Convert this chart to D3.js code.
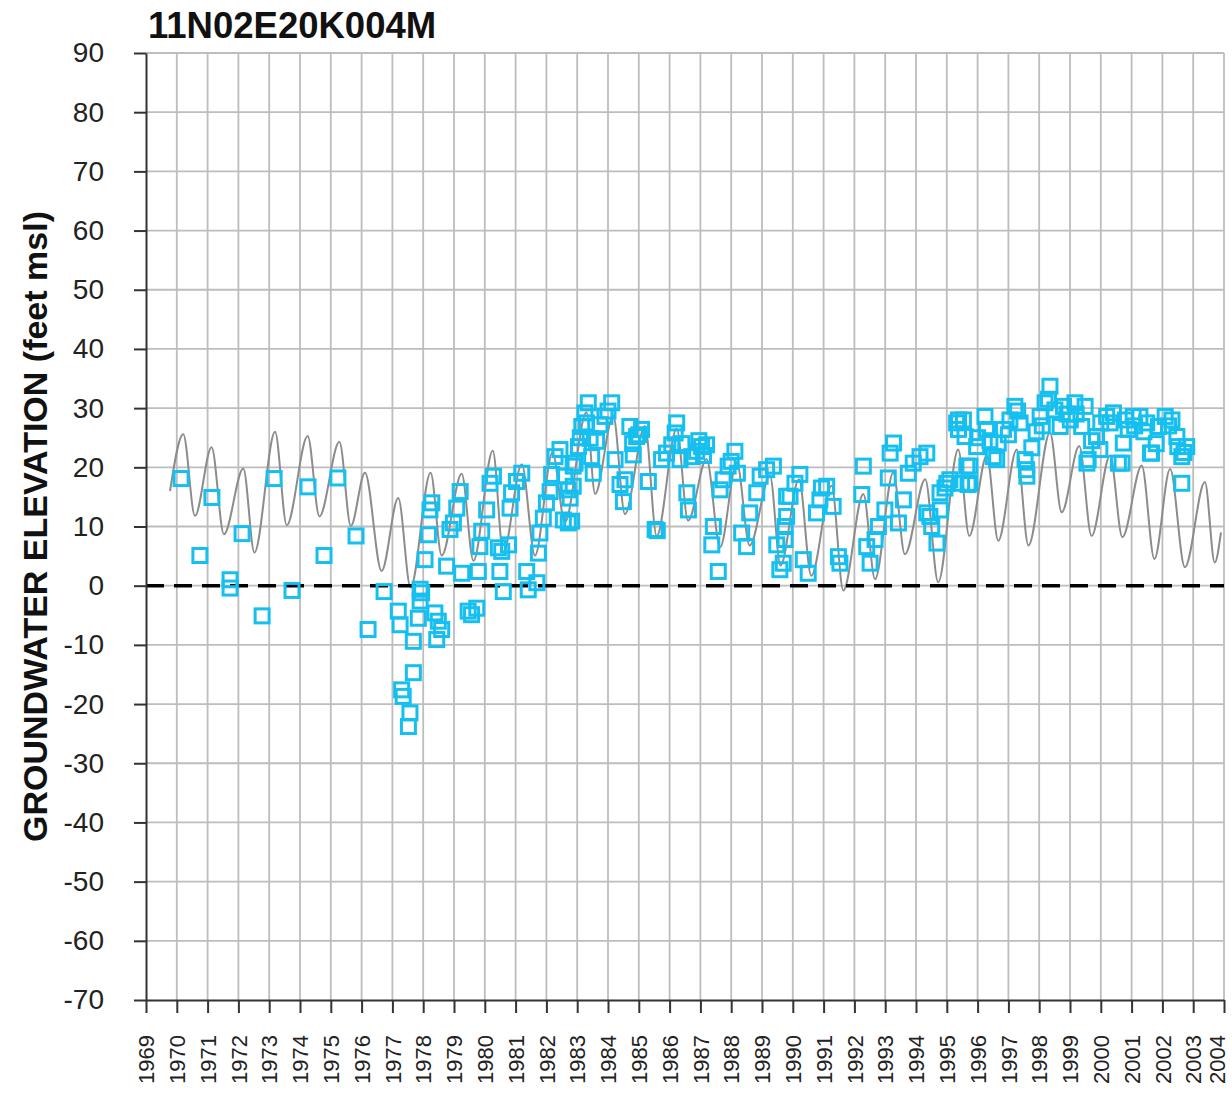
<!DOCTYPE html>
<html>
<head>
<meta charset="utf-8">
<script src="https://cdn.jsdelivr.net/npm/d3@7"></script>
<style>
  html, body { margin: 0; padding: 0; background: #fff; }
  svg { display: block; font-family: "Liberation Sans", Arial, sans-serif; }
</style>
</head>
<body>
<svg id="chart" width="1232" height="1095"></svg>
<script>
// Well 11N02E20K004M — simulated vs. observed groundwater elevation

const wellName = "11N02E20K004M";
const yAxisTitle = "GROUNDWATER ELEVATION (feet msl)";

// Tick labels
const yearTicks = d3.range(1969, 2005);           // 1969 … 2004
const elevTicks = d3.range(-70, 91, 10);          // -70 … 90

// Simulated hydrograph: seasonal turning points (decimal year, feet msl)
const simYear = [
  1969.78, 1970.21, 1970.59, 1971.13, 1971.53, 1972.16, 1972.52, 1973.19, 1973.57,
  1974.25, 1974.63, 1975.28, 1975.65, 1976.11, 1976.65, 1977.19, 1977.59, 1978.24,
  1978.60, 1979.25, 1979.63, 1980.26, 1980.60, 1981.20, 1981.63, 1982.20, 1982.60,
  1983.30, 1983.58, 1984.17, 1984.55, 1985.20, 1985.58, 1986.23, 1986.60, 1987.20,
  1987.64, 1988.18, 1988.60, 1989.26, 1989.60, 1990.20, 1990.60, 1991.26, 1991.64,
  1992.29, 1992.67, 1993.26, 1993.64, 1994.30, 1994.72, 1995.37, 1995.73, 1996.30,
  1996.67, 1997.27, 1997.65, 1998.35, 1998.73, 1999.30, 1999.70, 2000.30, 2000.70,
  2001.33, 2001.74, 2002.25, 2002.73, 2003.38, 2003.70, 2003.90
];
const simElev = [
  16.0, 25.6, 11.8, 23.4, 8.7, 19.8, 5.6, 26.0, 10.2,
  25.3, 11.7, 24.3, 10.1, 19.1, 2.5, 14.8, -0.3, 19.1,
  5.1, 18.9, 4.2, 22.8, 5.6, 20.5, 5.1, 22.5, 10.7,
  29.3, 15.5, 28.7, 12.1, 27.0, 8.4, 26.5, 11.0, 21.4,
  6.5, 20.8, 6.8, 18.6, 3.4, 18.0, 1.7, 16.9, -0.8,
  15.5, 1.1, 19.1, 5.3, 18.0, 0.6, 23.0, 8.4, 22.0,
  7.6, 23.0, 6.8, 25.9, 12.4, 23.6, 8.4, 22.0, 8.2,
  20.3, 4.5, 19.7, 3.1, 17.5, 3.9, 9.0
];

// Observed water levels (decimal year, feet msl)
const obsYear = [
  1970.14, 1970.75, 1971.14, 1971.73, 1971.73, 1972.12, 1972.77, 1973.16, 1973.74, 1974.26,
  1974.78, 1975.23, 1975.82, 1976.21, 1976.73,
  1977.19, 1977.25, 1977.68, 1977.84, 1977.90, 1977.95, 1977.68, 1977.30, 1977.35, 1977.57,
  1977.52, 1977.90, 1978.06, 1978.17, 1978.22, 1978.28, 1978.38, 1978.49, 1978.44, 1978.60,
  1978.76, 1978.87, 1978.98, 1979.09, 1979.20, 1979.25, 1979.46, 1979.57, 1979.74, 1979.79,
  1979.84, 1979.90, 1980.06, 1980.17, 1980.28, 1980.44, 1980.55, 1980.49, 1980.60, 1980.77,
  1980.82, 1980.87, 1981.03, 1981.20, 1981.36, 1981.41, 1981.69, 1981.74, 1981.79, 1981.90,
  1982.00, 1982.12, 1982.17, 1982.28, 1982.44, 1982.55, 1982.71, 1982.77, 1982.87, 1982.93,
  1982.60, 1982.71, 1982.82, 1982.87, 1983.04, 1983.15, 1983.25, 1983.36, 1983.42, 1983.47,
  1983.52, 1983.63, 1983.74, 1983.90, 1984.12, 1984.23, 1984.39, 1984.50, 1984.55, 1984.71,
  1984.82, 1984.93, 1985.09, 1985.31, 1985.53, 1985.60, 1985.74, 1985.90, 1986.07, 1986.23,
  1986.18, 1986.34, 1986.56, 1986.61, 1986.72, 1986.88, 1987.04, 1987.20, 1987.42, 1987.37,
  1987.58, 1987.64, 1987.74, 1987.90, 1988.12, 1988.34, 1988.50, 1988.60, 1988.83, 1988.94,
  1989.15, 1989.37, 1989.48, 1989.58, 1989.75, 1989.80,
  1989.69, 1989.75, 1989.80, 1989.91, 1990.07, 1990.23, 1990.34, 1990.50, 1990.77, 1990.88,
  1990.93, 1991.10, 1991.31, 1991.48, 1991.53, 1992.24, 1992.29, 1992.40, 1992.51, 1992.67,
  1992.78, 1992.99, 1993.10, 1993.16, 1993.27, 1993.43, 1993.59, 1993.75, 1993.91, 1994.13,
  1994.35, 1994.35, 1994.51, 1994.68, 1994.79, 1994.94, 1995.10, 1995.32, 1995.48, 1995.69,
  1994.45, 1994.78, 1995.00, 1995.38, 1995.38, 1995.65,
  1995.54, 1995.59, 1995.75, 1995.75, 1995.97, 1996.24, 1996.29, 1996.51, 1996.62, 1996.67,
  1996.84, 1997.05, 1997.21, 1997.38, 1997.54, 1997.59, 1997.60, 1997.76, 1998.03, 1998.19,
  1998.35, 1998.51, 1998.68, 1998.79, 1999.01, 1999.16, 1999.38, 1999.49, 1999.55, 1999.59,
  1999.86, 1999.97, 2000.19, 2000.41, 2000.57, 2000.69, 2000.73, 2000.89, 2001.05, 2001.27,
  2001.49, 2001.61, 2001.65, 2001.87, 2002.09, 2002.31, 2002.47, 2002.63, 2002.79, 2002.63,
  1996.00, 1996.40, 1997.00, 1997.30, 1997.90, 1998.10, 1998.30, 1998.90, 1999.20, 1999.70,
  2000.00, 2000.30, 2000.80, 2001.10, 2001.40, 2001.80, 2002.20, 2002.50, 2002.70,
  1986.40, 1986.95, 1987.10, 1988.00, 1988.20, 1983.10, 1983.30, 1984.00, 1984.80, 1985.00
];
const obsElev = [
  18.1, 5.1, 14.9, 1.0, -0.4, 8.8, -5.1, 18.1, -0.8, 16.7,
  5.1, 18.2, 8.4, -7.4, -1.0,
  -4.3, -6.6, -9.4, -5.5, -2.6, -1.2, -14.7, -17.6, -18.7, -21.5,
  -23.8, -0.6, 4.4, 8.6, 12.8, 14.0, -4.6, -6.0, -9.1, -7.4,
  3.3, 9.5, 10.6, 13.1, 15.9, 2.1, -4.3, -4.9, -3.8, 2.4,
  6.6, 9.2, 12.8, 17.3, 18.5, 6.4, 5.8, 2.4, -1.0, 6.9,
  13.1, 15.7, 17.6, 19.0, 2.4, -0.7, 0.5, 5.5, 8.9, 11.4,
  14.0, 15.9, 18.8, 21.8, 23.0, 11.1, 10.6, 14.8, 16.8, 20.7,
  18.5, 16.2, 10.9, 20.2, 23.5, 26.9, 29.2, 30.9, 24.9, 21.8,
  19.0, 24.4, 27.2, 28.6, 30.9, 21.3, 17.1, 14.2, 17.9, 26.9,
  22.1, 25.2, 26.4, 17.6, 9.5, 9.3, 21.3, 22.4, 23.8, 27.5,
  25.8, 21.3, 15.7, 12.8, 21.8, 22.7, 23.5, 23.8, 10.0, 6.9,
  2.4, 16.2, 17.9, 20.2, 22.7, 8.9, 6.6, 12.3, 15.7, 18.5,
  19.6, 20.2, 6.9, 2.7, 10.0, 15.1,
  3.8, 7.8, 11.7, 15.1, 17.3, 18.8, 4.4, 2.1, 12.3, 14.5,
  16.5, 16.8, 13.4, 4.9, 3.8, 15.4, 20.2, 6.6, 3.8, 7.8,
  10.0, 12.8, 18.2, 22.4, 24.1, 10.6, 14.5, 19.0, 20.7, 21.8,
  22.4, 12.3, 10.0, 7.2, 12.8, 16.5, 17.9, 27.5, 17.3, 17.1,
  11.7, 15.7, 17.3, 28.0, 26.4, 20.2,
  28.0, 25.2, 20.2, 17.3, 23.5, 28.6, 26.4, 21.8, 21.3, 24.1,
  26.4, 28.0, 30.3, 27.5, 21.3, 19.6, 18.5, 23.3, 28.6, 30.9,
  33.7, 29.7, 26.9, 30.3, 28.0, 30.9, 26.9, 30.3, 20.7, 21.3,
  25.2, 23.0, 28.6, 29.2, 20.7, 20.7, 24.1, 26.4, 28.6, 28.6,
  27.5, 22.4, 22.4, 26.9, 28.6, 28.0, 25.2, 21.8, 23.5, 17.3,
  25.0, 24.5, 25.5, 29.5, 26.0, 27.0, 31.5, 29.0, 29.0, 24.5,
  27.5, 27.5, 28.0, 27.0, 26.0, 24.0, 27.0, 23.5, 22.5,
  24.0, 24.5, 22.0, 21.0, 19.0, 25.0, 27.5, 29.5, 24.0, 25.5
];

const sim = simYear.map((t, i) => ({ t, v: simElev[i] }));
const obs = obsYear.map((t, i) => ({ t, v: obsElev[i] }));

const plot = { left: 146, right: 1224, top: 53, bottom: 1000 };
const FONT = '"Liberation Sans", Arial, sans-serif';

const x = d3.scaleLinear().domain([1969, 2004]).range([plot.left, plot.right]);
const y = d3.scaleLinear().domain([-70, 90]).range([plot.bottom, plot.top]);

const svg = d3.select("#chart");

// Gridlines
const grid = svg.append("g").attr("stroke", "#bdbdbd").attr("stroke-width", 1.8);
grid.selectAll("line.v").data(yearTicks.slice(1)).join("line")
  .attr("x1", d => x(d)).attr("x2", d => x(d))
  .attr("y1", plot.top).attr("y2", plot.bottom);
grid.selectAll("line.h").data(elevTicks.slice(1)).join("line")
  .attr("x1", plot.left).attr("x2", plot.right)
  .attr("y1", d => y(d)).attr("y2", d => y(d));

// Simulated hydrograph
svg.append("path")
  .datum(sim)
  .attr("fill", "none")
  .attr("stroke", "#8c8c8c")
  .attr("stroke-width", 2)
  .attr("d", d3.line().x(d => x(d.t)).y(d => y(d.v)).curve(d3.curveMonotoneX));

// Zero reference
svg.append("line")
  .attr("x1", plot.left).attr("x2", plot.right)
  .attr("y1", y(0)).attr("y2", y(0))
  .attr("stroke", "#000").attr("stroke-width", 3.5)
  .attr("stroke-dasharray", "18,10");

// Observed levels
const S = 14;
svg.append("g")
  .selectAll("rect").data(obs).join("rect")
  .attr("x", d => x(d.t) - S / 2).attr("y", d => y(d.v) - S / 2)
  .attr("width", S).attr("height", S)
  .attr("fill", "none").attr("stroke", "#15bff0").attr("stroke-width", 3);

// Y axis
const yAxis = svg.append("g")
  .attr("transform", `translate(${plot.left},0)`)
  .call(d3.axisLeft(y).tickValues(elevTicks).tickFormat(d => String(d))
    .tickSize(12).tickPadding(30).tickSizeOuter(0));
yAxis.select(".domain").attr("stroke", "#333").attr("stroke-width", 2);
yAxis.selectAll(".tick line").attr("stroke", "#333").attr("stroke-width", 2);
yAxis.selectAll(".tick text")
  .attr("font-family", FONT).attr("font-size", 28).attr("fill", "#222");

// X axis
const xAxis = svg.append("g")
  .attr("transform", `translate(0,${plot.bottom})`)
  .call(d3.axisBottom(x).tickValues(yearTicks).tickFormat(d => String(d))
    .tickSize(13).tickSizeOuter(0));
xAxis.select(".domain").attr("stroke", "#333").attr("stroke-width", 2);
xAxis.selectAll(".tick line").attr("stroke", "#333").attr("stroke-width", 2);
xAxis.selectAll(".tick text")
  .attr("font-family", FONT).attr("font-size", 22).attr("fill", "#222")
  .attr("x", 0).attr("y", 0).attr("dy", "0.35em")
  .attr("text-anchor", "end")
  .attr("transform", (d, i, n) => `translate(${i === n.length - 1 ? -7 : 0},35) rotate(-90)`);

// Title
svg.append("text")
  .attr("x", 148).attr("y", 38)
  .attr("font-family", FONT).attr("font-size", 36.5).attr("font-weight", "bold")
  .attr("fill", "#111")
  .text(wellName);

// Y axis title
svg.append("text")
  .attr("transform", `translate(47,${(plot.top + plot.bottom) / 2}) rotate(-90)`)
  .attr("text-anchor", "middle")
  .attr("font-family", FONT).attr("font-size", 34).attr("font-weight", "bold")
  .attr("fill", "#111")
  .text(yAxisTitle);
</script>
</body>
</html>
